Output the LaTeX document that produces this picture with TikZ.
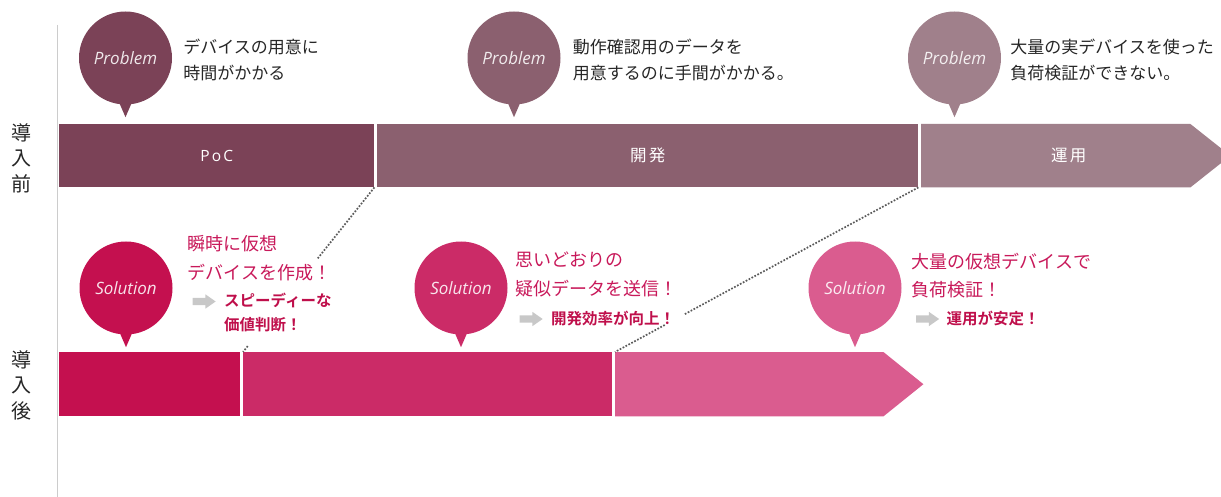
\documentclass[tikz,border=0pt]{standalone}
\usepackage{fontspec}
\setmainfont{Open Sans}
\newfontfamily\jp{Noto Sans CJK JP}[BoldFont={Noto Sans CJK JP Bold}]
\newfontfamily\jpwide{Noto Sans CJK JP}[LetterSpace=14]
\newfontfamily\latwide{Open Sans}[LetterSpace=14]
\usepackage{tikz}
\usetikzlibrary{arrows.meta,positioning,calc,shapes.arrows}

\definecolor{pocc}{HTML}{7B4257}
\definecolor{devc}{HTML}{8B606F}
\definecolor{opsc}{HTML}{A0808B}
\definecolor{solA}{HTML}{C4104F}
\definecolor{solB}{HTML}{CB2B67}
\definecolor{solC}{HTML}{DA5C8F}
\definecolor{solpink}{HTML}{C8195A}
\definecolor{subpink}{HTML}{BF0F4B}
\definecolor{arrowgray}{HTML}{C8C8C8}
\definecolor{axisgray}{HTML}{CCCCCC}
\definecolor{dotgray}{HTML}{5A5A5A}

\begin{document}
\begin{tikzpicture}[x=1pt,y=-1pt,font=\jp,every node/.style={inner sep=0pt}]
            % Define the styles
            \tikzstyle{bar} = [rectangle, minimum height=63pt, anchor=north west, text=white]
            \tikzstyle{lowbar} = [rectangle, minimum height=64pt, anchor=north west]
            \tikzstyle{bubble} = [circle, minimum size=93pt, text=white, text opacity=0.88, font=\rmfamily\itshape\fontsize{17}{20}\selectfont]
            \tikzstyle{probtext} = [align=left, text=black!85, font=\jp\fontsize{17}{26}\selectfont]
            \tikzstyle{soltext} = [align=left, text=solpink, font=\jp\fontsize{18}{28.5}\selectfont]
            \tikzstyle{subtext} = [align=left, text=subpink, font=\jp\bfseries\fontsize{15.5}{24}\selectfont]
            \tikzstyle{garrow} = [single arrow, fill=arrowgray, minimum height=23pt, inner sep=3.5pt, single arrow head extend=3.5pt, single arrow tip angle=70]
            \tikzstyle{sidelabel} = [align=center, text=black!85, font=\jp\fontsize{20}{25.5}\selectfont]
            \tikzstyle{dots} = [dotgray, line width=1.7pt, dash pattern=on 1.7pt off 1.6pt]

            \useasboundingbox (0,0) rectangle (1221,497);

            % Axis
            \draw[axisgray, line width=1.5pt] (57.5,25) -- (57.5,497);

            % Side labels
            \node[sidelabel] (before) at (22,158) {導\\入\\前};
            \node[sidelabel] (after) at (22,385) {導\\入\\後};

            % Bars before
            \node[bar, fill=pocc, minimum width=315pt] (poc) at (59,124) {\latwide\fontsize{15.5}{18}\selectfont PoC};
            \node[bar, fill=devc, minimum width=541pt] (dev) at (377,124) {\jpwide\fontsize{16.5}{18}\selectfont 開発};
            \node[bar, minimum width=269pt] (ops) at (921,124) {};
            \fill[opsc] (ops.north west) -- (ops.north east) -- ($(ops.east)+(40,0)$) -- (ops.south east) -- (ops.south west) -- cycle;
            \node[text=white, font=\jpwide\fontsize{16.5}{18}\selectfont] (opslabel) at ($(ops.center)+(13,0)$) {運用};

            % Bars after
            \node[lowbar, fill=solA, minimum width=181pt] (s1) at (59,352) {};
            \node[lowbar, fill=solB, minimum width=369pt] (s2) at (243,352) {};
            \node[lowbar, minimum width=268pt] (s3) at (615,352) {};
            \fill[solC] (s3.north west) -- (s3.north east) -- ($(s3.east)+(40,0)$) -- (s3.south east) -- (s3.south west) -- cycle;

            % Problem bubbles
            \node[bubble, fill=pocc] (pb1) at (125.5,58) {Problem};
            \node[bubble, fill=devc] (pb2) at (514,58) {Problem};
            \node[bubble, fill=opsc] (pb3) at (954.5,58) {Problem};

            % Solution bubbles
            \node[bubble, fill=solA] (sl1) at (126,288) {Solution};
            \node[bubble, fill=solB] (sl2) at (461,288) {Solution};
            \node[bubble, fill=solC] (sl3) at (855,288) {Solution};

            % Tails
            \foreach \b/\c in {pb1/pocc, pb2/devc, pb3/opsc, sl1/solA, sl2/solB, sl3/solC}
              \fill[\c] ($(\b.south)+(-8,-6)$) -- ($(\b.south)+(0,12.5)$) -- ($(\b.south)+(8,-6)$) -- cycle;

            % Problem texts
            \node[probtext, right=11pt of pb1, yshift=-2pt] (pt1) {デバイスの用意に\\時間がかかる};
            \node[probtext, right=12pt of pb2, yshift=-2pt] (pt2) {動作確認用のデータを\\用意するのに手間がかかる。};
            \node[probtext, right=9pt of pb3, yshift=-2pt] (pt3) {大量の実デバイスを使った\\負荷検証ができない。};

            % Solution texts
            \node[soltext, right=15pt of sl1, yshift=30pt] (st1) {瞬時に仮想\\デバイスを作成！};
            \node[soltext, right=8pt of sl2, yshift=13.5pt] (st2) {思いどおりの\\疑似データを送信！};
            \node[soltext, right=10pt of sl3, yshift=12.5pt] (st3) {大量の仮想デバイスで\\負荷検証！};

            % Gray arrows and results
            \node[garrow] (ar1) at (201.5,301.5) {};
            \node[garrow] (ar2) at (528.5,319) {};
            \node[garrow] (ar3) at (925,319) {};
            \node[subtext, right=8pt of ar1, yshift=-10.5pt] (rs1) {スピーディーな\\価値判断！};
            \node[subtext, right=8pt of ar2] (rs2) {開発効率が向上！};
            \node[subtext, right=7pt of ar3] (rs3) {運用が安定！};

            % Dotted links
            \draw[dots] (poc.south east) -- ($(poc.south east)!0.436!(s2.north west)$);
            \draw[dots] ($(poc.south east)!0.964!(s2.north west)$) -- (s2.north west);
            \draw[dots] (dev.south east) -- ($(dev.south east)!0.77!(s3.north west)$);
            \draw[dots] ($(dev.south east)!0.836!(s3.north west)$) -- (s3.north west);
        \end{tikzpicture}
\end{document}
